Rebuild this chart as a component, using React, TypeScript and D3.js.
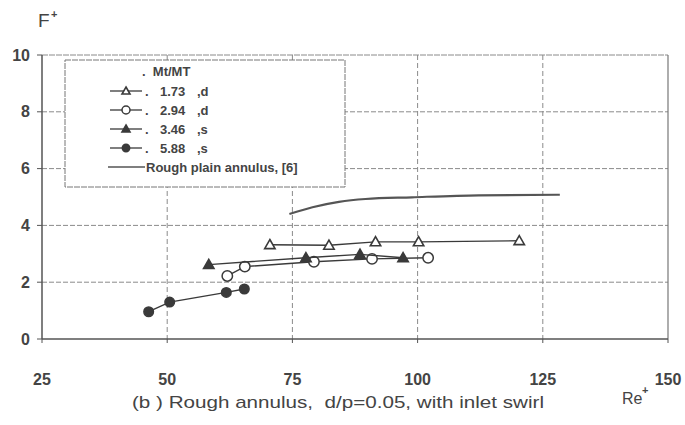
import React from "react";
import * as d3 from "d3";

const xTicks = [25, 50, 75, 100, 125, 150];
const yTicks = [0, 2, 4, 6, 8, 10];

const s1x = [70.5, 82.3, 91.6, 100.2, 120.3];
const s1y = [3.32, 3.3, 3.42, 3.42, 3.46];
const s2x = [62, 65.5, 79.3, 90.9, 102.1];
const s2y = [2.22, 2.55, 2.72, 2.82, 2.86];
const s3x = [58.3, 77.7, 88.5, 97.1];
const s3y = [2.62, 2.86, 2.98, 2.86];
const s4x = [46.3, 50.5, 61.8, 65.4];
const s4y = [0.96, 1.3, 1.64, 1.76];
const roughX = [74.4, 79, 84.3, 89.6, 98.9, 112.2, 128.4];
const roughY = [4.4, 4.64, 4.83, 4.93, 4.99, 5.06, 5.08];

const legendLabels = ["1.73", "2.94", "3.46", "5.88"];
const legendSuffix = [",d", ",d", ",s", ",s"];
const markers = ["triO", "circO", "triF", "circF"];

const W = 685, H = 425;
const L = 42, R = 668, T = 55, B = 339;

const x = d3.scaleLinear().domain([25, 150]).range([L, R]);
const y = d3.scaleLinear().domain([0, 10]).range([B, T]);

const ink = "#3a3a3a";
const txt = "#444";

function Marker({ kind, cx, cy, s = 5.2 }: { kind: string; cx: number; cy: number; s?: number }) {
  if (kind.startsWith("tri")) {
    const p = `M${cx},${cy - s} L${cx + s},${cy + s * 0.75} L${cx - s},${cy + s * 0.75} Z`;
    return <path d={p} fill={kind === "triF" ? ink : "#fff"} stroke={ink} strokeWidth={1.6} />;
  }
  return (
    <circle cx={cx} cy={cy} r={kind === "circF" ? s * 0.92 : s} fill={kind === "circF" ? ink : "#fff"} stroke={ink} strokeWidth={1.5} />
  );
}

export default function App() {
  const series = [
    { xs: s1x, ys: s1y, m: markers[0] },
    { xs: s2x, ys: s2y, m: markers[1] },
    { xs: s3x, ys: s3y, m: markers[2] },
    { xs: s4x, ys: s4y, m: markers[3] },
  ];
  const mk = (xs: number[], ys: number[]) =>
    d3.line<[number, number]>().x((d) => x(d[0])).y((d) => y(d[1]))(xs.map((v, i) => [v, ys[i]]))!;
  const curve = d3
    .line<[number, number]>()
    .x((d) => x(d[0]))
    .y((d) => y(d[1]))
    .curve(d3.curveMonotoneX)(roughX.map((v, i) => [v, roughY[i]]))!;

  const font = "'Liberation Sans', Arial, Helvetica, sans-serif";
  const legRows = [91, 110, 129, 148];

  return (
    <svg width={W} height={H} style={{ position: "absolute", left: 0, top: 0, background: "#fff" }} fontFamily={font}>
      {yTicks.filter((t) => t > 0).map((t) => (
        <line key={"gy" + t} x1={L} x2={R} y1={y(t)} y2={y(t)} stroke="#8a8a8a" strokeWidth={1} strokeDasharray={t === 10 ? "6,1" : "5,2"} />
      ))}
      {xTicks.filter((t) => t > 25 && t < 150).map((t) => (
        <line key={"gx" + t} x1={x(t)} x2={x(t)} y1={T} y2={B} stroke="#8a8a8a" strokeWidth={1} strokeDasharray="5,3" />
      ))}
      <line x1={R} x2={R} y1={T} y2={B} stroke="#777" strokeWidth={1.2} />
      <line x1={L} x2={L} y1={T} y2={B} stroke="#555" strokeWidth={1.5} />
      <line x1={L} x2={R} y1={B} y2={B} stroke="#555" strokeWidth={1.5} />
      {yTicks.map((t) => (
        <line key={"ty" + t} x1={L - 5} x2={L} y1={y(t)} y2={y(t)} stroke="#555" strokeWidth={1} />
      ))}
      {xTicks.map((t) => (
        <line key={"tx" + t} x1={x(t)} x2={x(t)} y1={B} y2={B + 4} stroke="#555" strokeWidth={1} />
      ))}
      {yTicks.map((t) => (
        <text key={"ly" + t} x={30} y={y(t) + 5.5} textAnchor="end" fontSize={16} fontWeight="bold" fill={txt}>
          {t}
        </text>
      ))}
      {xTicks.map((t) => (
        <text key={"lx" + t} x={x(t)} y={385} textAnchor="middle" fontSize={16} fontWeight="bold" fill={txt}>
          {t}
        </text>
      ))}
      <text x={38} y={27} fontSize={19} fill={txt}>F</text>
      <text x={51} y={18} fontSize={11} fontWeight="bold" fill={txt}>+</text>
      <text x={622} y={404} fontSize={16} fill={txt}>Re</text>
      <text x={642} y={394} fontSize={11} fontWeight="bold" fill={txt}>+</text>
      <text x={132} y={408} fontSize={17} fill={txt} textLength={412} lengthAdjust="spacingAndGlyphs" style={{ whiteSpace: "pre" }}>
        {"(b ) Rough annulus,  d/p=0.05, with inlet swirl"}
      </text>

      <path d={curve} fill="none" stroke="#555" strokeWidth={2.2} />
      {series.map((s, i) => (
        <g key={"s" + i}>
          <path d={mk(s.xs, s.ys)} fill="none" stroke={ink} strokeWidth={1.4} />
          {s.xs.map((v, j) => (
            <Marker key={j} kind={s.m} cx={x(v)} cy={y(s.ys[j])} />
          ))}
        </g>
      ))}

      <rect x={65} y={60} width={280} height={127} fill="#fff" stroke="#777" strokeWidth={1} strokeDasharray="6,1" />
      <text x={142} y={76} fontSize={13} fontWeight="bold" fill={txt} style={{ whiteSpace: "pre" }}>{".  Mt/MT"}</text>
      {legendLabels.map((lab, i) => (
        <g key={"lg" + i}>
          <line x1={110} x2={142} y1={legRows[i]} y2={legRows[i]} stroke={ink} strokeWidth={1.3} />
          <Marker kind={markers[i]} cx={126} cy={legRows[i]} s={4} />
          <text x={145} y={legRows[i] + 4.5} fontSize={13} fontWeight="bold" fill={txt}>.</text>
          <text x={160} y={legRows[i] + 4.5} fontSize={13} fontWeight="bold" fill={txt}>{lab}</text>
          <text x={197} y={legRows[i] + 4.5} fontSize={13} fontWeight="bold" fill={txt}>{legendSuffix[i]}</text>
        </g>
      ))}
      <line x1={108} x2={145} y1={167} y2={167} stroke="#555" strokeWidth={1.3} />
      <text x={146} y={171.5} fontSize={13} fontWeight="bold" fill={txt}>Rough plain annulus, [6]</text>
    </svg>
  );
}
